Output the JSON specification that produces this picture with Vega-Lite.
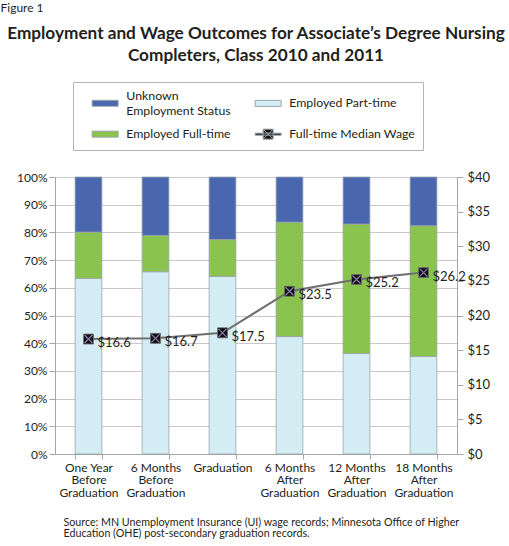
{
  "$schema": "https://vega.github.io/schema/vega-lite/v6.json",
  "width": 402,
  "height": 277,
  "autosize": {"type": "none"},
  "padding": {"left": 55, "top": 177, "right": 52, "bottom": 92},
  "background": "white",
  "config": {"font": "Lato", "view": {"stroke": null}},
  "title": {
    "text": ["Employment and Wage Outcomes for Associate’s Degree Nursing", "Completers, Class 2010 and 2011"],
    "fontSize": 17.2,
    "fontWeight": "bold",
    "color": "#231f20",
    "anchor": "middle",
    "frame": "group",
    "offset": -63,
    "lineHeight": 22
  },
  "datasets": {
    "bars": [
      {"period": "One Year Before Graduation", "status": "Employed Part-time", "pct": 63.4},
      {"period": "One Year Before Graduation", "status": "Employed Full-time", "pct": 16.7},
      {"period": "One Year Before Graduation", "status": "Unknown Employment Status", "pct": 19.9},
      {"period": "6 Months Before Graduation", "status": "Employed Part-time", "pct": 65.8},
      {"period": "6 Months Before Graduation", "status": "Employed Full-time", "pct": 13.1},
      {"period": "6 Months Before Graduation", "status": "Unknown Employment Status", "pct": 21.1},
      {"period": "Graduation", "status": "Employed Part-time", "pct": 64.1},
      {"period": "Graduation", "status": "Employed Full-time", "pct": 13.3},
      {"period": "Graduation", "status": "Unknown Employment Status", "pct": 22.6},
      {"period": "6 Months After Graduation", "status": "Employed Part-time", "pct": 42.4},
      {"period": "6 Months After Graduation", "status": "Employed Full-time", "pct": 41.3},
      {"period": "6 Months After Graduation", "status": "Unknown Employment Status", "pct": 16.3},
      {"period": "12 Months After Graduation", "status": "Employed Part-time", "pct": 36.3},
      {"period": "12 Months After Graduation", "status": "Employed Full-time", "pct": 46.7},
      {"period": "12 Months After Graduation", "status": "Unknown Employment Status", "pct": 17.0},
      {"period": "18 Months After Graduation", "status": "Employed Part-time", "pct": 35.2},
      {"period": "18 Months After Graduation", "status": "Employed Full-time", "pct": 47.2},
      {"period": "18 Months After Graduation", "status": "Unknown Employment Status", "pct": 17.6}
    ],
    "wage": [
      {"period": "One Year Before Graduation", "wage": 16.6},
      {"period": "6 Months Before Graduation", "wage": 16.7},
      {"period": "Graduation", "wage": 17.5},
      {"period": "6 Months After Graduation", "wage": 23.5},
      {"period": "12 Months After Graduation", "wage": 25.2},
      {"period": "18 Months After Graduation", "wage": 26.2}
    ]
  },
  "layer": [
    {
      "data": {"name": "bars"},
      "transform": [
        {"calculate": "indexof(['Employed Part-time','Employed Full-time','Unknown Employment Status'], datum.status)", "as": "ord"}
      ],
      "mark": {"type": "bar", "stroke": "#9aa6ac", "strokeWidth": 0.8},
      "encoding": {
        "x": {
          "field": "period",
          "type": "nominal",
          "sort": null,
          "scale": {"paddingInner": 0.6, "paddingOuter": 0.3},
          "axis": {
            "labelAngle": 0,
            "labelFontSize": 12,
            "labelLineHeight": 12.5,
            "labelColor": "#231f20",
            "labelPadding": 3,
            "labelLimit": 0,
            "tickBand": "extent",
            "tickSize": 5,
            "tickColor": "#a6a6a6",
            "domainColor": "#a6a6a6",
            "labelExpr": "!datum.label ? '' : datum.label === 'Graduation' ? 'Graduation' : [split(datum.label,' ')[0] + ' ' + split(datum.label,' ')[1], split(datum.label,' ')[2], split(datum.label,' ')[3]]",
            "title": ["Source: MN Unemployment Insurance (UI) wage records; Minnesota Office of Higher", "Education (OHE) post-secondary graduation records."],
            "titleFontSize": 10.7,
            "titleFontWeight": "normal",
            "titleColor": "#231f20",
            "titleAlign": "left",
            "titleAnchor": "start",
            "titleBaseline": "top",
            "titleLineHeight": 11,
            "titleX": 8,
            "titleY": 63
          }
        },
        "y": {
          "field": "pct",
          "type": "quantitative",
          "stack": "zero",
          "scale": {"domain": [0, 100]},
          "axis": {
            "values": [0, 10, 20, 30, 40, 50, 60, 70, 80, 90, 100],
            "labelExpr": "datum.value + '%'",
            "labelFontSize": 12,
            "labelColor": "#231f20",
            "labelPadding": 2,
            "tickSize": 6,
            "tickColor": "#a6a6a6",
            "domainColor": "#a6a6a6",
            "gridColor": "#c9c9c9",
            "gridWidth": 1.2,
            "title": "Figure 1",
            "titleAngle": 0,
            "titleAlign": "left",
            "titleBaseline": "top",
            "titleX": -55,
            "titleY": -175,
            "titleFontSize": 12,
            "titleFontWeight": "normal",
            "titleColor": "#231f20"
          }
        },
        "color": {
          "field": "status",
          "type": "nominal",
          "scale": {
            "domain": ["Unknown Employment Status", "Employed Part-time", "Employed Full-time", "Full-time Median Wage"],
            "range": ["#4a66ae", "#d4ecf3", "#8bc34f", "#111111"]
          },
          "legend": {
            "orient": "none",
            "legendX": 18,
            "legendY": -95,
            "columns": 2,
            "direction": "horizontal",
            "title": null,
            "strokeColor": "#b5b5b5",
            "padding": 8,
            "symbolSize": 100,
            "symbolStrokeWidth": 1,
            "symbolType": {"expr": "datum.value === 'Full-time Median Wage' ? 'M1,-0.2H6.2V0.2H1Z M2.6,-1H4.6V1H2.6Z M2.6,-1L4.6,1 M2.6,1L4.6,-1' : datum.value === 'Unknown Employment Status' ? 'M1,0.8H6.2V2H1Z' : 'M1,-0.6H6.2V0.6H1Z'"},
            "labelFontSize": 12.3,
            "labelColor": "#231f20",
            "labelLimit": 300,
            "labelOffset": 33,
            "columnPadding": 13,
            "rowPadding": 10,
            "labelExpr": "datum.label === 'Unknown Employment Status' ? ['Unknown', 'Employment Status'] : datum.label"
          }
        },
        "order": {"field": "ord", "type": "quantitative", "sort": "ascending"}
      }
    },
    {
      "data": {"name": "wage"},
      "encoding": {
        "x": {"field": "period", "type": "nominal", "sort": null},
        "y": {
          "field": "wage",
          "type": "quantitative",
          "scale": {"domain": [0, 40]},
          "axis": {
            "orient": "right",
            "values": [0, 5, 10, 15, 20, 25, 30, 35, 40],
            "labelExpr": "'$' + datum.value",
            "labelFontSize": 13,
            "labelColor": "#231f20",
            "labelPadding": 4,
            "tickSize": 6,
            "tickColor": "#a6a6a6",
            "domainColor": "#a6a6a6",
            "grid": false,
            "title": null
          }
        }
      },
      "layer": [
        {
          "mark": {"type": "line", "strokeWidth": 2, "color": "#6d6e71"}
        },
        {
          "mark": {"type": "point", "shape": "square", "filled": true, "fill": "#111111", "stroke": "#6d6e71", "strokeWidth": 0.8, "size": 100, "opacity": 1}
        },
        {
          "mark": {"type": "point", "shape": "M-1,-1L1,1M-1,1L1,-1", "filled": false, "stroke": "#8a7bb0", "strokeWidth": 1.2, "size": 64, "opacity": 1}
        },
        {
          "mark": {"type": "text", "align": "left", "baseline": "middle", "dx": 9, "dy": 4, "fontSize": 13, "color": "#231f20"},
          "encoding": {"text": {"field": "wage", "type": "quantitative", "format": "$.1f"}}
        }
      ]
    }
  ],
  "resolve": {"scale": {"y": "independent"}}
}
